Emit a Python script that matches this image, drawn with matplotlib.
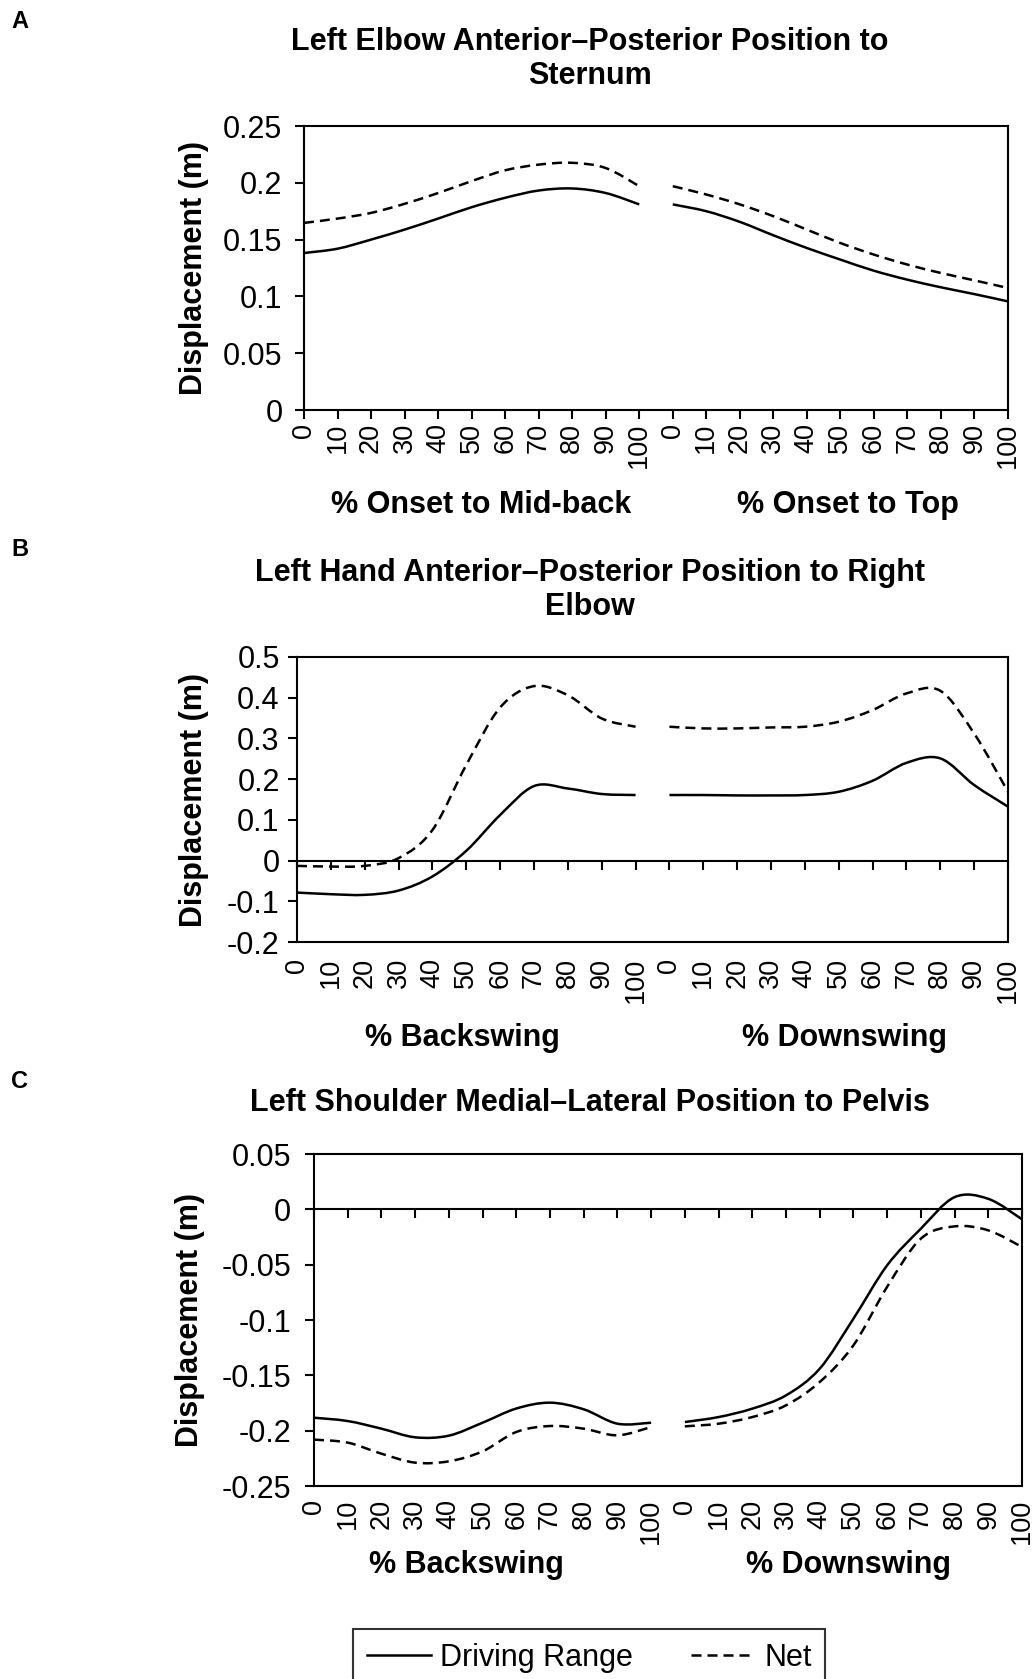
import numpy as np
import matplotlib.pyplot as plt
from matplotlib.path import Path
from matplotlib.patches import PathPatch
from matplotlib.lines import Line2D

plt.rcParams['font.family'] = ['Liberation Sans', 'DejaVu Sans']

W, H = 1036, 1679

# --- data (0..100 % of each phase in steps of 10) ---
x_labels = ['0', '10', '20', '30', '40', '50', '60', '70', '80', '90', '100'] * 2

a_range = [0.1382, 0.142, 0.150, 0.1588, 0.1685, 0.1785, 0.1868, 0.1932, 0.195, 0.191, 0.181,
           0.181, 0.175, 0.1656, 0.1538, 0.1426, 0.1324, 0.1226, 0.1147, 0.108, 0.102, 0.0956]
a_net = [0.1647, 0.1685, 0.1735, 0.1815, 0.191, 0.2015, 0.211, 0.216, 0.2176, 0.213, 0.197,
         0.197, 0.1897, 0.181, 0.1706, 0.1588, 0.147, 0.1368, 0.128, 0.1206, 0.1141, 0.1074]

b_range = [-0.0785, -0.0826, -0.0842, -0.0736, -0.039, 0.024, 0.112, 0.183, 0.177, 0.1635, 0.161,
           0.161, 0.161, 0.160, 0.160, 0.161, 0.169, 0.196, 0.240, 0.251, 0.1856, 0.1325]
b_net = [-0.013, -0.0147, -0.013, 0.006, 0.075, 0.235, 0.376, 0.4285, 0.406, 0.349, 0.3287,
         0.3287, 0.3246, 0.3246, 0.327, 0.3287, 0.341, 0.3696, 0.4105, 0.417, 0.312, 0.169]

c_range = [-0.1883, -0.1913, -0.1982, -0.2060, -0.2045, -0.1928, -0.180, -0.1747, -0.1807, -0.1937, -0.1928,
           -0.1922, -0.1877, -0.1801, -0.1681, -0.144, -0.0988, -0.0506, -0.0175, 0.011, 0.0095, -0.009]
c_net = [-0.2081, -0.2108, -0.2208, -0.2289, -0.2277, -0.2187, -0.2012, -0.1958, -0.1982, -0.2042, -0.1967,
         -0.1961, -0.1937, -0.1877, -0.1771, -0.156, -0.1229, -0.0700, -0.0265, -0.0154, -0.019, -0.034]

a_yticks = [0, 0.05, 0.1, 0.15, 0.2, 0.25]
b_yticks = [-0.2, -0.1, 0, 0.1, 0.2, 0.3, 0.4, 0.5]
c_yticks = [-0.25, -0.2, -0.15, -0.1, -0.05, 0, 0.05]

DASH = (0, (4, 2.4))


def smooth_path(xs, ys):
    # excel-style smoothed line: cubic bezier through the points
    pts = np.column_stack([xs, ys])
    n = len(pts)
    verts = [pts[0]]
    codes = [Path.MOVETO]
    for i in range(n - 1):
        p0 = pts[max(i - 1, 0)]
        p1 = pts[i]
        p2 = pts[i + 1]
        p3 = pts[min(i + 2, n - 1)]
        verts += [p1 + (p2 - p0) / 6, p2 - (p3 - p1) / 6, p2]
        codes += [Path.CURVE4] * 3
    return Path(verts, codes)


def draw_series(ax, vals, ls):
    x = np.arange(len(vals))
    v = np.asarray(vals)
    for s in (slice(0, 11), slice(11, 22)):
        ax.add_patch(PathPatch(smooth_path(x[s], v[s]), fill=False, lw=1.8,
                               ls=ls, ec='black', capstyle='butt'))


def px_rect(left, right, top, bottom):
    return [left / W, 1 - bottom / H, (right - left) / W, (bottom - top) / H]


def setup(ax, yticks, zero_axis, ypad, xpad):
    n = len(x_labels)
    ax.set_xlim(0, n - 1)
    ax.set_ylim(yticks[0], yticks[-1])
    ax.set_yticks(yticks, labels=[f'{v:g}' for v in yticks])
    ax.set_xticks(np.arange(n), labels=x_labels, rotation=90)
    for sp in ax.spines.values():
        sp.set_linewidth(1.5)
    ax.tick_params(axis='y', direction='out', length=6.5, width=1.5, labelsize=22, pad=ypad)
    if zero_axis:
        ax.tick_params(axis='x', length=0, labelsize=19.5, pad=xpad)
        sec = ax.secondary_xaxis(0, transform=ax.transData)
        sec.set_xticks(np.arange(n), labels=[])
        sec.tick_params(direction='out', length=6.5, width=1.5)
        sec.spines['bottom'].set_linewidth(1.5)
    else:
        ax.tick_params(axis='x', direction='out', length=6.5, width=1.5, labelsize=19.5, pad=xpad)


def ftext(x, y, s, **kw):
    fig.text(x / W, 1 - y / H, s, **kw)


fig = plt.figure(figsize=(W / 100, H / 100), dpi=100)

ax_a = fig.add_axes(px_rect(304, 1008, 126, 410))
ax_b = fig.add_axes(px_rect(297, 1008, 657, 942))
ax_c = fig.add_axes(px_rect(314, 1022, 1154, 1486))

setup(ax_a, a_yticks, False, 9, 3)
setup(ax_b, b_yticks, True, 6, 11.5)
setup(ax_c, c_yticks, True, 10, 9.5)

for ax, rng, net in [(ax_a, a_range, a_net), (ax_b, b_range, b_net), (ax_c, c_range, c_net)]:
    draw_series(ax, rng, '-')
    draw_series(ax, net, DASH)

bold = dict(fontsize=22, fontweight='bold', ha='center', va='center')
letter = dict(fontsize=17, fontweight='bold', ha='center', va='center')

# panel letters
ftext(20, 22, 'A', **letter)
ftext(20, 550, 'B', **letter)
ftext(20, 1081, 'C', **letter)

# titles
ftext(590, 59, 'Left Elbow Anterior–Posterior Position to\nSternum', linespacing=1.2, **bold)
ftext(590, 590, 'Left Hand Anterior–Posterior Position to Right\nElbow', linespacing=1.2, **bold)
ftext(590, 1103, 'Left Shoulder Medial–Lateral Position to Pelvis', **bold)

# y labels
ftext(194, 268, 'Displacement (m)', rotation=90, **bold)
ftext(194, 800, 'Displacement (m)', rotation=90, **bold)
ftext(190, 1320, 'Displacement (m)', rotation=90, **bold)

# phase labels
ftext(481, 505, '% Onset to Mid-back', **bold)
ftext(848, 505, '% Onset to Top', **bold)
ftext(462, 1038, '% Backswing', **bold)
ftext(844, 1038, '% Downswing', **bold)
ftext(466, 1565, '% Backswing', **bold)
ftext(849, 1565, '% Downswing', **bold)

handles = [Line2D([], [], color='black', lw=1.8),
           Line2D([], [], color='black', lw=1.8, ls=DASH)]
leg = fig.legend(handles, ['Driving Range', 'Net'], ncol=2, loc='upper center',
                 bbox_to_anchor=(589 / W, 1 - 1629 / H), fontsize=22, frameon=True,
                 fancybox=False, edgecolor='black', borderpad=0.45, borderaxespad=0,
                 handlelength=2.1, handletextpad=0.3, columnspacing=1.9)
leg.get_frame().set_linewidth(1.5)

fig.savefig('out.png', dpi=100)
